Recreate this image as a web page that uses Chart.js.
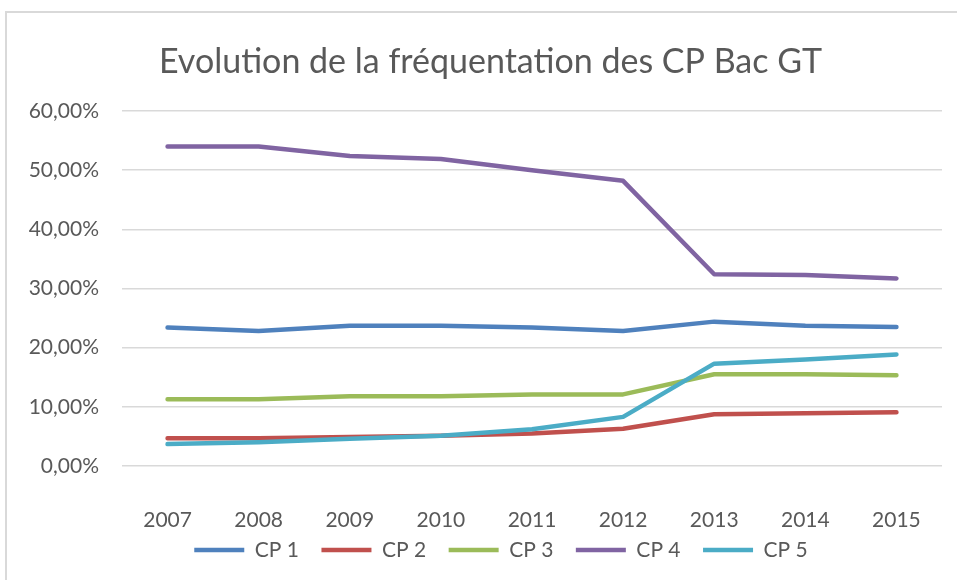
<!DOCTYPE html>
<html>
<head>
<meta charset="utf-8">
<script src="https://cdn.jsdelivr.net/npm/chart.js@4"></script>
<style>
  html, body { margin: 0; padding: 0; background: #fff; overflow: hidden; }
  #cadre {
    position: absolute; left: 5px; top: 11px;
    width: 975px; height: 580px;
    border-left: 2px solid #d9d9d9; border-top: 2px solid #d9d9d9;
  }
</style>
</head>
<body>
<div id="cadre"><canvas id="graphique" width="975" height="580"></canvas></div>
<script>
const annees = ["2007", "2008", "2009", "2010", "2011", "2012", "2013", "2014", "2015"];
const cp1 = [23.4, 22.8, 23.7, 23.7, 23.4, 22.8, 24.4, 23.7, 23.5];
const cp2 = [4.7, 4.7, 4.9, 5.1, 5.5, 6.3, 8.75, 8.9, 9.1];
const cp3 = [11.3, 11.3, 11.8, 11.8, 12.1, 12.1, 15.5, 15.5, 15.35];
const cp4 = [54.0, 54.0, 52.4, 51.9, 50.0, 48.2, 32.4, 32.3, 31.7];
const cp5 = [3.7, 4.0, 4.6, 5.1, 6.2, 8.3, 17.3, 18.0, 18.85];
const ticksY = [0, 10, 20, 30, 40, 50, 60];

const couleurs = ["#4F81BD", "#C0504D", "#9BBB59", "#8064A2", "#4BACC6"];
const series = [cp1, cp2, cp3, cp4, cp5];
const noms = ["CP 1", "CP 2", "CP 3", "CP 4", "CP 5"];
const gris = "#595959";
const police = "Lato, 'Open Sans', sans-serif";

Chart.defaults.font.family = police;
Chart.defaults.color = gris;

// titre et légende recentrés sur le cadre (comme dans Excel), légende remontée
const placeBlocs = {
    id: 'placeBlocs',
    afterLayout(chart) {
        const lg = chart.legend;
        lg.top -= 17; lg.bottom -= 17;
        lg.left += 26.5; lg.right += 26.5;
        const tt = chart.titleBlock;
        tt.left += 16; tt.right += 16;
    }
};

const ctx = document.getElementById("graphique").getContext("2d");

new Chart(ctx, {
    type: 'line',
    data: {
        labels: annees,
        datasets: series.map((valeurs, i) => ({
            label: noms[i],
            data: valeurs,
            borderColor: couleurs[i],
            backgroundColor: couleurs[i],
            borderWidth: 4.5,
            borderCapStyle: 'round',
            borderJoinStyle: 'round',
            pointRadius: 0,
            tension: 0,
            order: 5 - i
        }))
    },
    plugins: [placeBlocs],
    options: {
        responsive: false,
        animation: false,
        layout: { padding: { left: 0, right: 40, top: 0, bottom: 5.5 } },
        plugins: {
            title: {
                display: true,
                text: "Evolution de la fréquentation des CP Bac GT",
                color: gris,
                font: { size: 34, weight: 'normal' },
                padding: { top: 28.6, bottom: 28.6 }
            },
            legend: {
                position: 'bottom',
                labels: {
                    usePointStyle: true,
                    pointStyle: 'line',
                    pointStyleWidth: 50,
                    boxHeight: 21,
                    padding: 22.5,
                    color: gris,
                    font: { size: 21 },
                    sort: (a, b) => a.datasetIndex - b.datasetIndex
                }
            },
            tooltip: { enabled: false }
        },
        scales: {
            x: {
                offset: true,
                grid: { display: false, drawTicks: false },
                border: { display: false },
                ticks: { padding: 42, color: gris, font: { size: 21 }, maxRotation: 0 },
                afterFit: (s) => { s.height = 68; }
            },
            y: {
                min: 0,
                max: 60,
                afterBuildTicks: (s) => { s.ticks = ticksY.map(v => ({ value: v })); },
                grid: { color: "#d9d9d9", lineWidth: 1.5, drawTicks: false },
                border: { display: false },
                ticks: {
                    padding: 23,
                    color: gris,
                    font: { size: 21 },
                    callback: (v) => v.toFixed(2).replace('.', ',') + '%'
                },
                afterFit: (s) => { s.width = 115; }
            }
        }
    }
});
</script>
</body>
</html>
